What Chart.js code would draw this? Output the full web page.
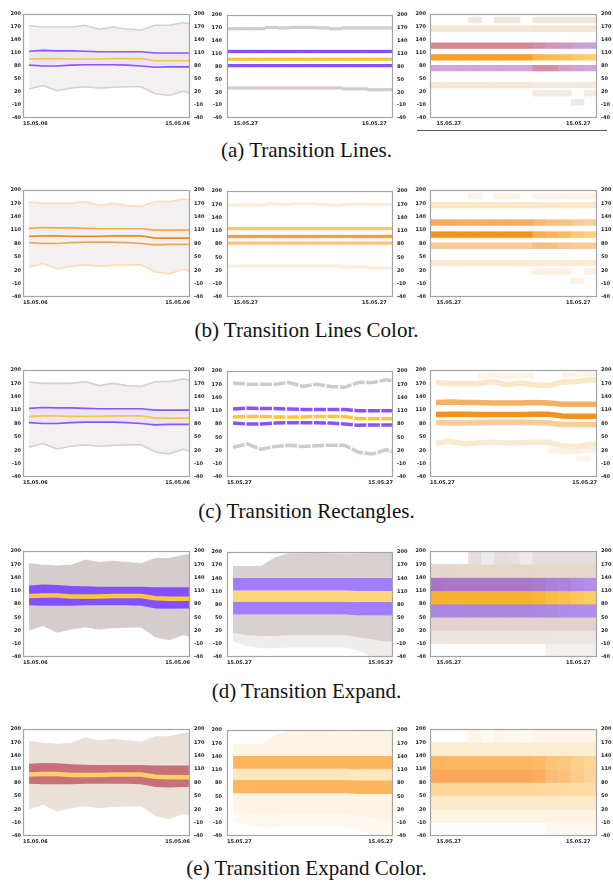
<!DOCTYPE html>
<html>
<head>
<meta charset="utf-8">
<title>Transitions</title>
<script src="https://cdn.jsdelivr.net/npm/chart.js@4.4.1/dist/chart.umd.min.js"></script>
<style>
html,body{margin:0;padding:0;background:#fff;}
#page{position:relative;width:613px;height:884px;overflow:hidden;}
#page canvas{position:absolute;}
.cap{position:absolute;left:0;width:613px;text-align:center;font-family:"Liberation Serif","DejaVu Serif",serif;font-size:21px;line-height:24px;color:#111;}
.rule{position:absolute;left:417px;width:190px;top:130px;border-top:1px solid #555;}
</style>
</head>
<body>
<div id="page">
  <div class="rule"></div>
  <div class="cap" style="top:138px">(a) Transition Lines.</div>
  <div class="cap" style="top:318px">(b) Transition Lines Color.</div>
  <div class="cap" style="top:499px">(c) Transition Rectangles.</div>
  <div class="cap" style="top:679px">(d) Transition Expand.</div>
  <div class="cap" style="top:856px">(e) Transition Expand Color.</div>
</div>
<script>
/* ---------- data ---------- */
const leftDate = '15.05.06';
const rightDate = '15.05.27';
const yTicks = [-40, -10, 20, 50, 80, 110, 140, 170, 200];
const cells = ['1','2','3','4','5','6','7','8','9','10','11','12','13'];

// percentile lines (panels a1, b1, c1, c2)
const upperGray   = [173,170,170,170,174,165,170,165,163,174,174,180,174];
const upperPurple = [114,116,115,115,114,113,113,113,113,110,110,110,110];
const midYellow   = [96,97,97,96,96,96,97,97,97,92,92,92,92];
const lowerPurple = [82,80,80,82,83,83,83,82,80,77,78,78,78];
const lowerGray   = [27,35,23,29,32,29,31,32,32,16,12,22,12];

// aggregated steps (panels a2, b2)
const stepTop    = [168,168,168,171,170,171,171,170,168,170,170,170,170];
const stepUpper  = [115,115,115,115,115,115,115,115,115,115,115,115,115];
const stepMid    = [97,97,97,97,97,97,97,97,97,97,97,97,97];
const stepLower  = [82,82,82,82,82,82,82,82,82,82,82,82,82];
const stepBottom = [30,30,30,30,30,30,30,30,30,28,28,26,26];

// heat rows (panels a3, b3): row centres and cell weights (null = empty)
const heatCenters = [186, 166, 127, 100, 75, 36, 17, -4];
const heatW186 = [null,null,null,0,null,0,0,null,0,0,0,0,0];
const heatW166 = [0,0,0,0,0,0,0,0,0.5,0.5,0.5,0.5,0.5];
const heatW127 = [0,0,0,0,0,0,0,0,0.3,0.5,0.6,0.85,1];
const heatW100 = [0,0,0,0,0,0,0,0,0.45,0.55,0.65,0.85,1];
const heatW75  = [0,0,0,0,0,0,0,0,1,1,0.3,0.1,0];
const heatW36  = [0,0,0,0,0,0,0,0,0.5,0.5,0.5,0.5,0.5];
const heatW17  = [null,null,null,null,null,null,null,null,0,0,0,null,0];
const heatWm4  = [null,null,null,null,null,null,null,null,null,null,null,0,null];

// moving rectangles (panel c3)
const waveTop    = [null,null,null,187,189,186,188,186,null,189,190,193,191];
const waveHigh   = [172,170,170,170,174,167,171,167,165,173,174,178,175];
const waveUpper  = [127,128,127,127,126,126,126,127,126,123,123,123,123];
const waveMid    = [100,101,101,100,100,100,100,101,101,97,96,96,96];
const waveLower  = [82,81,81,82,83,83,83,82,81,78,78,78,78];
const waveLow    = [36,40,34,37,38,36,37,38,38,30,28,33,30];
const waveLow2   = [null,null,null,null,null,null,null,null,20,18,17,21,19];
const waveBottom = [null,null,null,null,null,null,null,null,null,null,2,0,null];

// expanded bands (panels d1, e1)
const expUpperGray   = [173,169,167,169,181,175,178,175,172,184,184,191,196];
const expUpperPurple = [122,124,123,121,120,119,119,119,119,118,118,118,118];
const expMid         = [98,99,99,97,97,97,98,98,98,93,92,92,92];
const expLowerPurple = [77,76,76,76,77,77,77,77,76,70,69,70,70];
const expLowerGray   = [20,30,15,22,27,22,25,26,27,5,-2,10,0];

// aggregated bands (panels d2, e2): edges from top to bottom
const bandTop      = [168,168,168,188,197,197,198,197,196,197,198,198,198];
const bandUpper    = [141,141,141,141,141,141,141,141,141,141,141,141,141];
const bandMidTop   = [112,112,112,112,112,112,112,112,112,111,111,111,111];
const bandMidBot   = [87,87,87,87,87,87,87,87,87,86,86,86,86];
const bandLower    = [57,57,57,57,57,57,57,57,57,55,55,55,55];
const bandLowGray  = [15,10,8,8,10,10,10,10,10,5,0,-5,-5];
const bandBottom   = [-5,-15,-20,-20,-18,-18,-18,-18,-18,-25,-40,-40,-40];

// percentile grid (panels d3, e3): 30-unit bands, cell weights
const gridEdges = [200, 170, 140, 110, 80, 50, 20, -10, -40];
const gridW0 = [null,null,null,0.2,1,0.2,0.3,1,0.2,0.2,0.2,0.2,0.2];
const gridW1 = [0,0,0,0,0,0,0,0,0,0,0,0,0];
const gridW2 = [0,0.1,0.1,0.1,0.1,0.1,0.1,0.1,0.2,0.5,0.6,0.8,1];
const gridW3 = [0,0,0,0,0,0,0,0,0.1,0.4,0.5,0.7,0.9];
const gridW4 = [0.3,0.3,0.3,0.3,0.3,0.3,0.3,0.3,0.4,0.5,0.6,0.7,0.8];
const gridW5 = [0,0,0,0,0,0,0,0,0,0,0,0,0];
const gridW6 = [0,0,0,0,0,0,0,0,0,0.3,0.3,0.3,0.3];
const gridW7 = [null,null,null,null,null,null,null,null,null,0,0,0,0];

/* ---------- layout ---------- */
const page = document.getElementById('page');
const PAD_T = 6, X_H = 12;
const X_MIN = -0.43, X_MAX = 11.48;
const rows = {a:{top:13,h:105}, b:{top:189,h:108}, c:{top:369,h:108}, d:{top:550,h:107}, e:{top:728,h:108}};
const cols = [{left:0,w:212,yl:23,yr:22,pl:2}, {left:203,w:212,yl:24,yr:22,pl:5}, {left:406,w:207,yl:24,yr:16,pl:4}];
const tickFont = {family:'DejaVu Sans', size:5, weight:'bold'};
const tickColor = '#222';

const purple = '#8a55fb', yellow = '#f8c440', grayLine = '#d9cfd0';

// grey frame round the plot area
const frame = {
  id: 'frame',
  afterDatasetsDraw(chart) {
    const {ctx, chartArea: a} = chart;
    ctx.save();
    ctx.strokeStyle = '#a4a4a4';
    ctx.lineWidth = 1.2;
    ctx.strokeRect(a.left + 0.5, a.top + 0.5, a.width - 1, a.height - 1);
    ctx.restore();
  }
};

function mix(a, b, t) {
  const p = h => [1, 3, 5].map(i => parseInt(h.slice(i, i + 2), 16));
  const A = p(a), B = p(b);
  return 'rgb(' + A.map((v, i) => Math.round(v + (B[i] - v) * t)).join(',') + ')';
}

const pts = arr => arr.map((v, i) => ({x: i, y: v}));

function yAxis(pos, w, pad) {
  return {
    position: pos, min: -40, max: 200,
    grid: {display: false, drawTicks: false}, border: {display: false},
    afterBuildTicks: s => { s.ticks = yTicks.map(v => ({value: v})); },
    ticks: {font: tickFont, color: tickColor, padding: pad},
    afterFit: s => { s.width = w; }
  };
}

function xTime(label) {
  return {
    type: 'linear', min: X_MIN, max: X_MAX,
    grid: {display: false, drawTicks: false}, border: {display: false},
    afterBuildTicks: s => { s.ticks = [{value: X_MIN}, {value: X_MAX}]; },
    ticks: {font: tickFont, color: tickColor, padding: 3, maxRotation: 0, align: 'inner', callback: () => label},
    afterFit: s => { s.height = X_H; }
  };
}

function xCells(label) {
  return {
    type: 'category', offset: true,
    grid: {display: false, drawTicks: false}, border: {display: false},
    ticks: {font: tickFont, color: tickColor, padding: 3, maxRotation: 0, autoSkip: false, align: 'inner',
      callback: (v, i, t) => (i === 0 || i === t.length - 1) ? label : ''},
    afterFit: s => { s.height = X_H; }
  };
}

function panel(rowKey, col, type, datasets, xScale) {
  const r = rows[rowKey], c = cols[col];
  const cv = document.createElement('canvas');
  cv.width = c.w;
  cv.height = PAD_T + r.h + X_H;
  cv.style.left = c.left + 'px';
  cv.style.top = (r.top - PAD_T) + 'px';
  page.appendChild(cv);
  return new Chart(cv, {
    type,
    data: {labels: type === 'bar' ? cells : [], datasets},
    options: {
      responsive: false, animation: false, devicePixelRatio: 1,
      layout: {padding: {top: PAD_T, left: 0, right: 0, bottom: 0}},
      plugins: {legend: {display: false}, tooltip: {enabled: false}, filler: {drawTime: 'beforeDatasetsDraw'}},
      elements: {point: {radius: 0}, line: {tension: 0}},
      scales: {x: xScale, y: yAxis('left', c.yl, c.pl), y2: yAxis('right', c.yr, 4)}
    },
    plugins: [frame]
  });
}

function line(arr, color, width, extra) {
  return Object.assign({data: pts(arr), borderColor: color, borderWidth: width, fill: false,
    borderCapStyle: 'butt', borderJoinStyle: 'miter'}, extra || {});
}

function cellSet(values, half, weights, c0, c1) {
  return {
    data: values.map((v, i) => weights[i] === null || v === null ? null : [v - half, v + half]),
    backgroundColor: weights.map(w => w === null ? 'rgba(0,0,0,0)' : mix(c0, c1, w)),
    borderWidth: 0, barPercentage: 1, categoryPercentage: 1, grouped: false
  };
}

function flat(v, weights) { return weights.map(() => v); }

/* ---------- panel builders ---------- */
// percentile lines with shaded ranges
function linesPanel(rowKey, st) {
  panel(rowKey, 0, 'line', [
    line(upperPurple, st.inner, 1.6, st.innerFill ? {fill: 1, backgroundColor: st.innerFill} : {}),
    line(lowerPurple, st.inner, 1.6),
    line(midYellow, st.mid, 1.6),
    line(upperGray, st.outer, 1.6, {fill: 4, backgroundColor: '#f2f0f0'}),
    line(lowerGray, st.outer, 1.6)
  ], xTime(leftDate));
}

// aggregated step lines
function stepsPanel(rowKey, st) {
  const ones = stepTop.map(() => 0);
  panel(rowKey, 1, 'bar', [
    cellSet(stepTop, 3, ones, st.outer, st.outer),
    cellSet(stepUpper, 3, ones, st.inner, st.inner),
    cellSet(stepMid, 3, ones, st.mid, st.mid),
    cellSet(stepLower, 3, ones, st.inner, st.inner),
    cellSet(stepBottom, 3, ones, st.outer, st.outer)
  ], xCells(rightDate));
}

// heat rows
function heatPanel(rowKey, pal) {
  const ws = [heatW186, heatW166, heatW127, heatW100, heatW75, heatW36, heatW17, heatWm4];
  panel(rowKey, 2, 'bar', ws.map((w, k) =>
    cellSet(flat(heatCenters[k], w), 6.5, w, pal[k][0], pal[k][1])
  ), xCells(rightDate));
}

// expanded filled bands
function expandPanel(rowKey, st) {
  panel(rowKey, 0, 'line', [
    line(expUpperPurple, 'rgba(0,0,0,0)', 0, {fill: 1, backgroundColor: st.band}),
    line(expLowerPurple, 'rgba(0,0,0,0)', 0),
    line(expMid, st.mid, 4.5),
    line(expUpperGray, 'rgba(0,0,0,0)', 0, {fill: 4, backgroundColor: st.outer}),
    line(expLowerGray, 'rgba(0,0,0,0)', 0)
  ], xTime(leftDate));
}

// aggregated filled bands
function bandPanel(rowKey, st) {
  const edges = [bandTop, bandUpper, bandMidTop, bandMidBot, bandLower, bandLowGray, bandBottom];
  const fills = [st.outer, st.band, st.mid, st.band, st.outer, st.light, null];
  panel(rowKey, 1, 'line', edges.map((e, k) =>
    line(e, 'rgba(0,0,0,0)', 0, fills[k] ? {fill: '+1', backgroundColor: fills[k]} : {})
  ), xTime(rightDate));
}

// percentile grid
function gridPanel(rowKey, pal) {
  const ws = [gridW0, gridW1, gridW2, gridW3, gridW4, gridW5, gridW6, gridW7];
  panel(rowKey, 2, 'bar', ws.map((w, k) =>
    cellSet(flat((gridEdges[k] + gridEdges[k + 1]) / 2, w), 15, w, pal[k][0], pal[k][1])
  ), xCells(rightDate));
}

/* ---------- row (a) ---------- */
const lineStyle = {outer: grayLine, inner: purple, mid: yellow, innerFill: '#ebe4fb'};
linesPanel('a', lineStyle);
stepsPanel('a', {outer: '#d6cbcb', inner: '#8550ff', mid: '#fcc436'});
heatPanel('a', [
  ['#efe6dc', '#efe6dc'], ['#f3e7d6', '#f1e3d0'], ['#d6868e', '#c9a2dc'], ['#fba01c', '#fdd070'],
  ['#d4a4d6', '#d68ea8'], ['#f1e6d8', '#f4ebe0'], ['#f2eae2', '#f2eae2'], ['#efe8e2', '#efe8e2']
]);

/* ---------- row (b) ---------- */
linesPanel('b', {outer: '#fddcb4', inner: '#f6a44c', mid: '#ee8a22'});
stepsPanel('b', {outer: '#fdeeda', inner: '#fbc47a', mid: '#f5a232'});
heatPanel('b', [
  ['#fdf3e6', '#fdf3e6'], ['#fbe6c8', '#fbe8cc'], ['#f4ae62', '#f8d0a0'], ['#f7921e', '#fdd080'],
  ['#f8cc9a', '#f5bf88'], ['#fcebd4', '#fcecd8'], ['#fdf1e4', '#fdf1e4'], ['#fdf1e4', '#fdf1e4']
]);

/* ---------- row (c) ---------- */
linesPanel('c', lineStyle);
panel('c', 1, 'line', [
  line(upperGray, '#d4c8c8', 3.5, {borderDash: [12, 1.5]}),
  line(upperPurple, '#8a52ff', 3.5, {borderDash: [12, 1.5]}),
  line(midYellow, '#fcc636', 3.5, {borderDash: [12, 1.5]}),
  line(lowerPurple, '#8a52ff', 3.5, {borderDash: [12, 1.5]}),
  line(lowerGray, '#d4c8c8', 3.5, {borderDash: [12, 1.5]})
], xTime(rightDate));
panel('c', 2, 'line', [
  line(waveTop, '#fdf3e6', 5.5),
  line(waveHigh, '#fbe6c6', 5.5),
  line(waveUpper, '#f6b064', 5.5),
  line(waveMid, '#f5901c', 5.5),
  line(waveLower, '#f9cc98', 5.5),
  line(waveLow, '#fce9d2', 5.5),
  line(waveLow2, '#fdf1e4', 5.5),
  line(waveBottom, '#fdf4ea', 5.5)
], xTime(rightDate));

/* ---------- row (d) ---------- */
expandPanel('d', {outer: '#d5cccc', band: '#8450ff', mid: '#fcc838'});
bandPanel('d', {outer: '#d9d1d1', band: '#a27eff', mid: '#fdd878', light: '#f0ecec'});
gridPanel('d', [
  ['#e4dbd8', '#efebea'], ['#e5d7ca', '#e5d7ca'], ['#a874c8', '#b48cf2'], ['#f7b230', '#fcd068'],
  ['#aa80dc', '#b490f0'], ['#e2d4cb', '#e2d4cb'], ['#ebe4e0', '#f2eeec'], ['#f3efed', '#f3efed']
]);

/* ---------- row (e) ---------- */
expandPanel('e', {outer: '#eae0d8', band: '#c8707a', mid: '#fcd064'});
bandPanel('e', {outer: '#fef4e4', band: '#feb65e', mid: '#fee6be', light: '#fff8ee'});
gridPanel('e', [
  ['#fff5e6', '#fffaf2'], ['#fdedd0', '#fdedd0'], ['#fdb45a', '#fdd696'], ['#fca858', '#fdd8a2'],
  ['#fdd496', '#fddcaa'], ['#feeacc', '#feeacc'], ['#fff3e2', '#fff6ea'], ['#fff8ee', '#fff8ee']
]);
</script>
</body>
</html>
